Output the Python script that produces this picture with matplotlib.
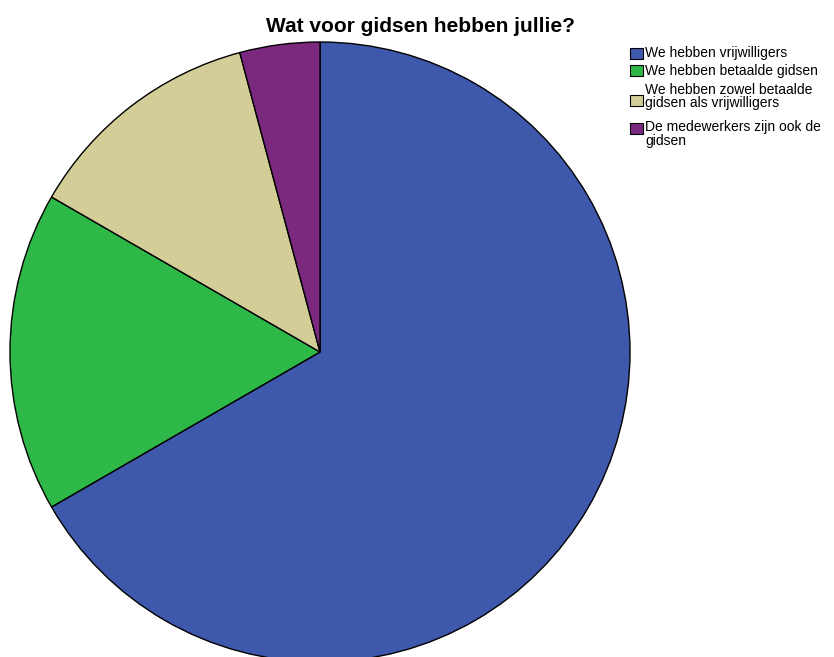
import matplotlib
matplotlib.use("Agg")
import matplotlib.pyplot as plt
from matplotlib.patches import Rectangle

title = "Wat voor gidsen hebben jullie?"
categories = ["We hebben vrijwilligers", "We hebben betaalde gidsen",
              "We hebben zowel betaalde\ngidsen als vrijwilligers",
              "De medewerkers zijn ook de\ngidsen"]
values = [16, 4, 3, 1]
colors = ["#3e58ac", "#2eb848", "#d3ce97", "#7b287f"]

W, H = 834, 657
fig = plt.figure(figsize=(W / 100, H / 100), dpi=100)
ax = fig.add_axes([0, 0, 1, 1])

ax.pie(values, colors=colors, startangle=90, counterclock=False,
       center=(320, H - 352), radius=310,
       wedgeprops=dict(edgecolor="black", linewidth=1.0), frame=True)
ax.set_xlim(0, W)
ax.set_ylim(0, H)
ax.set_aspect("equal")
ax.axis("off")

fig.text(421 / W, 1 - 27 / H, title, ha="center", va="center",
         fontsize=15, fontweight="bold", family="Liberation Sans")

# legend drawn in pixel coordinates
square_y = [53, 70.5, 100, 128]
text_y = [53, 70.5, 96.5, 134]
for lab, c, sy, ty in zip(categories, colors, square_y, text_y):
    ax.add_patch(Rectangle((630, H - sy - 5.5), 13, 11, facecolor=c,
                           edgecolor="black", linewidth=0.8, clip_on=False))
    ax.text(645, H - ty, lab, ha="left", va="center", fontsize=10,
            family="Liberation Sans", linespacing=0.97)

fig.savefig("out.png", dpi=100)
